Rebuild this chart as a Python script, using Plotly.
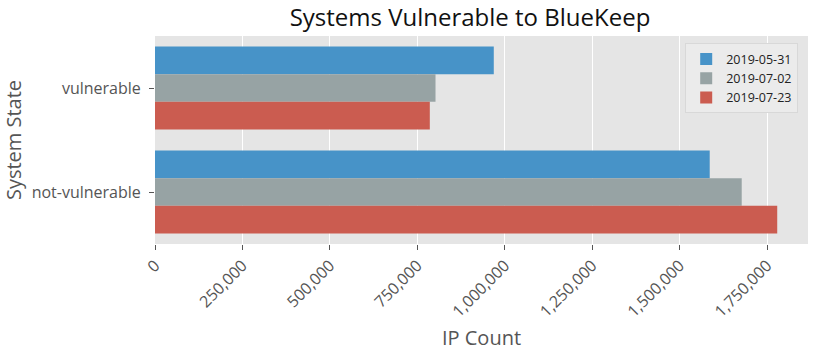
import plotly.graph_objects as go

categories = ["vulnerable", "not-vulnerable"]
dates = ["2019-05-31", "2019-07-02", "2019-07-23"]
values_0531 = [968600, 1586000]
values_0702 = [802000, 1677500]
values_0723 = [785700, 1779000]
series = [values_0531, values_0702, values_0723]
colors = ["#4793c8", "#97a3a4", "#cb5c50"]
x_ticks = [0, 250000, 500000, 750000, 1000000, 1250000, 1500000, 1750000]

FONT = "'Open Sans', 'Noto Sans', sans-serif"

fig = go.Figure()
for d, vals, c in zip(dates, series, colors):
    fig.add_trace(go.Bar(
        y=categories, x=vals, name=d, orientation="h",
        marker=dict(color=c, line=dict(width=0)),
    ))

fig.update_layout(
    width=816, height=354,
    margin=dict(l=155, r=8, t=36, b=108),
    paper_bgcolor="white",
    plot_bgcolor="#e5e5e5",
    barmode="group",
    bargap=0.2, bargroupgap=0,
    font=dict(family=FONT, color="#555555", size=14),
    title=dict(text="Systems Vulnerable to BlueKeep", x=0.576, xref="container",
               xanchor="center", y=0.95, yref="container", yanchor="middle",
               font=dict(family=FONT, size=24, color="#111111")),
    showlegend=True,
    legend=dict(x=0.985, xanchor="right", y=0.965, yanchor="top",
                bgcolor="#ebebeb", bordercolor="#d8d8d8", borderwidth=1,
                font=dict(family=FONT, size=12.5, color="#222222"),
                tracegroupgap=0, itemwidth=30,
                traceorder="normal"),
    xaxis=dict(
        range=[0, 1867000], tickvals=x_ticks, tickformat=",d",
        tickangle=-45, showgrid=True, gridcolor="white", gridwidth=1.3,
        zeroline=False, ticks="outside", ticklen=5, tickcolor="#555555",
        tickfont=dict(size=16, color="#555555"),
        title=dict(text="IP Count", font=dict(size=20, color="#555555"), standoff=10),
        showline=False,
    ),
    yaxis=dict(
        range=[1.5, -0.5], showgrid=False, zeroline=False,
        ticks="outside", ticklen=5, tickcolor="#555555",
        ticklabelstandoff=5,
        tickfont=dict(size=16, color="#555555"),
        title=dict(text="System State", font=dict(size=20, color="#555555"), standoff=8),
        showline=False,
    ),
)

fig.write_html("out.html")
